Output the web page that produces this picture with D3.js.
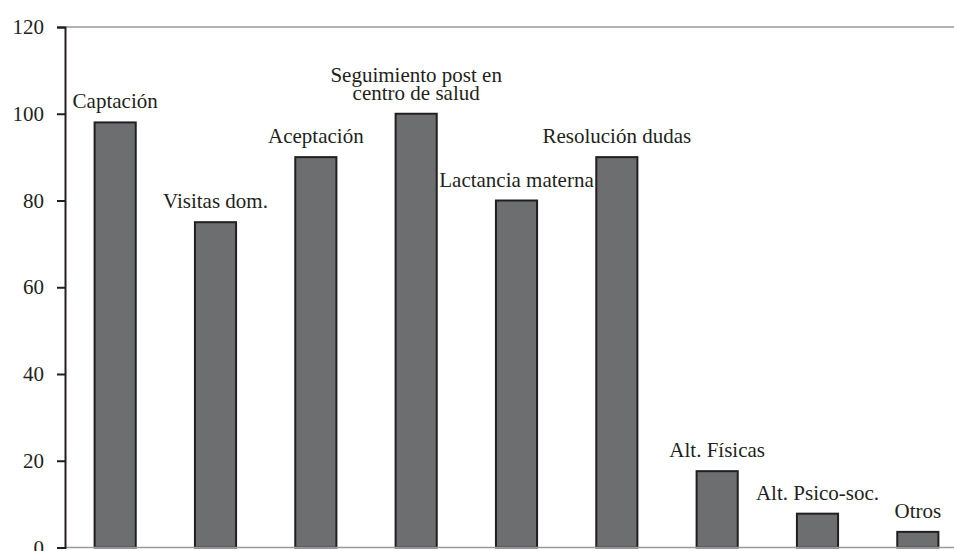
<!DOCTYPE html>
<html>
<head>
<meta charset="utf-8">
<script src="https://cdn.jsdelivr.net/npm/d3@7"></script>
<style>
  body { margin: 0; background: #fff; }
  text { font-family: "Liberation Serif", serif; fill: #231f20; }
</style>
</head>
<body>
<div id="chart"></div>
<script>
// data
var categories = ["Captación", "Visitas dom.", "Aceptación", "Seguimiento post en centro de salud",
    "Lactancia materna", "Resolución dudas", "Alt. Físicas", "Alt. Psico-soc.", "Otros"];
var values = [98, 75, 90, 100, 80, 90, 17.6, 7.8, 3.6];
var yTicks = [0, 20, 40, 60, 80, 100, 120];
// labels that wrap onto two lines
var labelLines = {"Seguimiento post en centro de salud": ["Seguimiento post en", "centro de salud"]};

var svgWidth = 954;
var svgHeight = 551;

var svg = d3.select("#chart")
    .append("svg")
    .attr("width", svgWidth)
    .attr("height", svgHeight);

var xScale = d3.scaleBand()
    .domain(categories)
    .range([65, 968])
    .paddingInner(0.59)
    .paddingOuter(0.295);

var yScale = d3.scaleLinear()
    .domain([0, 120])
    .range([547.5, 27]);

// top frame line and baseline
svg.append("line")
    .attr("x1", 65).attr("x2", svgWidth)
    .attr("y1", yScale(120)).attr("y2", yScale(120))
    .attr("stroke", "#9a9a9c").attr("stroke-width", 1.5);

// bars
svg.selectAll(".bar")
    .data(values)
    .enter()
    .append("rect")
    .classed("bar", true)
    .attr("x", (d, i) => xScale(categories[i]))
    .attr("width", xScale.bandwidth())
    .attr("y", d => yScale(d))
    .attr("height", d => yScale(0) - yScale(d))
    .attr("fill", "#6d6e70")
    .attr("stroke", "#231f20")
    .attr("stroke-width", 2);

svg.append("line")
    .attr("x1", 65).attr("x2", svgWidth)
    .attr("y1", yScale(0)).attr("y2", yScale(0))
    .attr("stroke", "#9a9a9c").attr("stroke-width", 1.5);

// y axis
var leftAxis = d3.axisLeft(yScale)
    .tickValues(yTicks)
    .tickSize(8)
    .tickPadding(13);

var yAxis = svg.append("g")
    .attr("transform", "translate(65, 0)")
    .call(leftAxis);

yAxis.select(".domain")
    .attr("stroke", "#231f20")
    .attr("stroke-width", 2);
yAxis.selectAll(".tick line")
    .attr("stroke", "#231f20")
    .attr("stroke-width", 2);
yAxis.selectAll(".tick text")
    .attr("font-family", "Liberation Serif")
    .attr("font-size", 21)
    .attr("fill", "#231f20");

// bar labels
var labels = svg.selectAll(".barLabel")
    .data(values)
    .enter()
    .append("text")
    .classed("barLabel", true)
    .attr("text-anchor", "middle")
    .attr("font-size", 21)
    .attr("x", (d, i) => xScale(categories[i]) + xScale.bandwidth() / 2)
    .attr("y", d => yScale(d) - 14);

labels.each(function(d, i) {
    var lines = labelLines[categories[i]] || [categories[i]];
    var t = d3.select(this);
    var x = t.attr("x");
    lines.forEach(function(line, j) {
        t.append("tspan")
            .attr("x", x)
            .attr("dy", j === 0 ? -(lines.length - 1) * 18 : 18)
            .text(line);
    });
});
</script>
</body>
</html>
